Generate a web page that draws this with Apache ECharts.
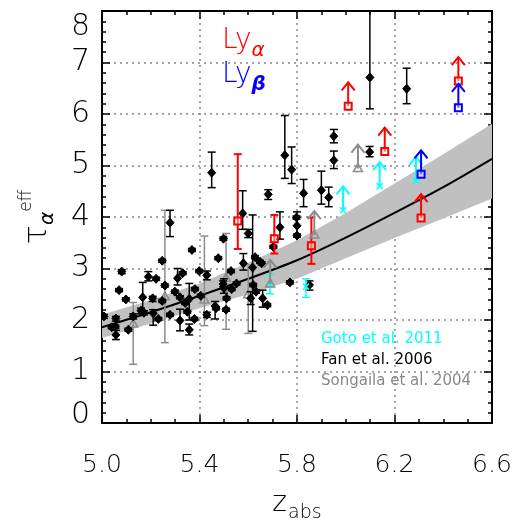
<!DOCTYPE html>
<html>
<head>
<meta charset="utf-8">
<script src="https://cdn.jsdelivr.net/npm/echarts@6/dist/echarts.min.js"></script>
<style>html,body{margin:0;padding:0;background:#fff}#c{width:522px;height:521px}</style>
</head>
<body>
<div id="c"></div>
<script>
// ---------- data ----------
const xTicks = [5.0, 5.4, 5.8, 6.2, 6.6];
const yTicks = [0, 1, 2, 3, 4, 5, 6, 7, 8];

// fit curve and its uncertainty band
const curveZ   = [5.0, 5.2, 5.4, 5.6, 5.8, 6.0, 6.2, 6.4, 6.6];
const curveTau = [1.86, 2.15, 2.47, 2.80, 3.16, 3.60, 4.08, 4.58, 5.13];
const bandHi   = [2.10, 2.39, 2.71, 3.11, 3.55, 4.08, 4.65, 5.22, 5.81];
const bandLo   = [1.65, 1.93, 2.23, 2.50, 2.80, 3.20, 3.59, 3.97, 4.36];

// Fan et al. 2006 (black)
const fanZ   = [5.008,5.040,5.057,5.055,5.057,5.070,5.081,5.098,5.108,5.128,5.160,5.167,5.172,5.190,5.208,5.210,5.222,5.231,5.247,5.247,5.258,5.279,5.279,5.299,5.310,5.320,5.331,5.320,5.341,5.358,5.350,5.358,5.369,5.381,5.379,5.399,5.405,5.430,5.430,5.450,5.464,5.468,5.477,5.498,5.500,5.511,5.509,5.529,5.552,5.532,5.577,5.580,5.600,5.618,5.620,5.610,5.628,5.648,5.655,5.659,5.632,5.678,5.682,5.703,5.730,5.750,5.771,5.778,5.800,5.798,5.800,5.827,5.851,5.900,5.930,5.951,5.951,6.098,6.099,6.250,5.497];
const fanTau = [2.07,1.86,2.03,1.87,1.71,2.58,2.94,2.40,1.81,2.07,2.18,2.44,2.14,2.84,2.42,2.13,2.80,2.02,3.15,2.37,2.67,3.89,2.10,2.55,2.81,2.44,2.91,1.99,2.33,2.41,2.16,1.81,3.36,2.60,2.02,2.95,2.47,2.87,2.10,4.86,2.27,2.23,3.20,3.58,2.62,2.42,2.20,2.95,2.71,2.60,4.07,3.10,3.68,3.02,2.68,2.42,3.22,3.13,3.10,2.42,2.55,2.29,4.44,3.42,3.80,5.20,2.73,4.92,3.83,3.99,3.64,4.46,2.68,4.52,4.38,5.57,5.10,5.26,6.71,6.49,2.70];
const fanLo  = [2.03,1.83,1.98,1.84,1.62,2.55,2.90,2.37,1.78,2.02,2.12,2.14,2.10,2.76,2.36,1.90,2.77,1.99,3.12,2.34,2.64,3.62,2.07,2.52,2.68,2.41,2.88,1.79,2.30,2.00,2.13,1.71,3.33,2.57,1.99,2.92,2.44,2.78,2.05,4.57,2.02,2.20,3.17,3.55,2.52,2.39,2.17,2.92,2.68,2.57,3.76,2.97,3.60,1.78,2.65,2.30,3.19,3.10,3.07,2.25,2.52,2.26,4.34,3.39,3.57,4.75,2.70,4.65,3.62,3.96,3.61,4.20,2.58,4.25,4.20,5.44,4.94,5.17,6.10,6.20,2.65];
const fanHi  = [2.11,1.89,2.07,1.90,1.80,2.61,2.98,2.43,1.84,2.12,2.23,2.73,2.18,2.94,2.46,2.20,2.83,2.05,3.18,2.40,2.70,4.13,2.13,2.58,3.00,2.47,2.94,2.21,2.36,2.71,2.19,1.92,3.39,2.63,2.05,2.98,2.50,2.95,2.15,5.26,2.36,2.26,3.23,3.61,2.80,2.45,2.23,2.98,2.74,2.63,4.51,3.29,3.76,4.04,2.71,2.55,3.25,3.16,3.13,2.58,2.58,2.32,4.53,3.45,4.10,5.97,2.76,5.36,4.10,4.02,3.67,4.73,2.76,4.89,4.58,5.70,5.28,5.37,8.00,6.89,2.76];

// Songaila et al. 2004 (gray)
const songZ   = [5.128, 5.258, 5.420, 5.509, 5.600];
const songTau = [1.92, 2.45, 2.39, 2.81, 2.49];
const songLo  = [1.14, 1.56, 1.89, 1.82, 1.74];
const songHi  = [2.34, 4.13, 3.63, 3.68, 3.07];
const songLimZ   = [5.690, 5.871, 6.050];
const songLimTau = [2.70, 3.65, 4.94];

// Goto et al. 2011 (cyan)
const gotoZ   = [5.689, 5.837];
const gotoTau = [2.68, 2.65];
const gotoLo  = [2.51, 2.44];
const gotoHi  = [2.89, 2.80];
const gotoLimZ   = [5.989, 6.139, 6.288];
const gotoLimTau = [4.13, 4.60, 4.70];

// Ly alpha (red) and Ly beta (blue)
const lyaZ   = [5.557, 5.707, 5.859];
const lyaTau = [3.92, 3.58, 3.44];
const lyaLo  = [3.38, 3.29, 3.09];
const lyaHi  = [5.22, 4.04, 3.99];
const lyaLimZ   = [6.010, 6.160, 6.309, 6.462];
const lyaLimTau = [6.15, 5.27, 3.98, 6.64];
const lybLimZ   = [6.309, 6.462];
const lybLimTau = [4.83, 6.12];

// ---------- helpers ----------
const FONT = 'DejaVu Sans';
const zip4 = (a, b, c, d) => a.map((v, i) => [v, b[i], c[i], d[i]]);
const zip2 = (a, b) => a.map((v, i) => [v, b[i]]);

function marker(kind, x, y, color) {
  const r = 4;
  if (kind === 'diamond') return {type:'polygon', shape:{points:[[x,y-r-0.5],[x+r,y],[x,y+r+0.5],[x-r,y]]}, style:{fill:color, stroke:color, lineWidth:1}};
  if (kind === 'square') return {type:'rect', shape:{x:x-3.5,y:y-3.5,width:7,height:7}, style:{fill:'rgba(255,255,255,0.4)', stroke:color, lineWidth:2}};
  if (kind === 'triangle') return {type:'polygon', shape:{points:[[x,y-5],[x+4.5,y+3],[x-4.5,y+3]]}, style:{fill:'none', stroke:color, lineWidth:1.5}};
  if (kind === 'x') return {type:'group', children:[
    {type:'line', shape:{x1:x-3,y1:y-3,x2:x+3,y2:y+3}, style:{stroke:color, lineWidth:1.5}},
    {type:'line', shape:{x1:x-3,y1:y+3,x2:x+3,y2:y-3}, style:{stroke:color, lineWidth:1.5}}]};
  return null;
}

function errSeries(data, color, kind, lw) {
  return {
    type: 'custom', data: data, encode: {x: 0, y: 1}, z: 5, clip: true,
    renderItem: function (params, api) {
      const p = api.coord([api.value(0), api.value(1)]);
      const pl = api.coord([api.value(0), api.value(2)]);
      const ph = api.coord([api.value(0), api.value(3)]);
      const ch = [];
      const cw = 4;
      ch.push({type:'line', shape:{x1:pl[0],y1:pl[1],x2:ph[0],y2:ph[1]}, style:{stroke:color, lineWidth:lw}});
      ch.push({type:'line', shape:{x1:pl[0]-cw,y1:pl[1],x2:pl[0]+cw,y2:pl[1]}, style:{stroke:color, lineWidth:lw}});
      ch.push({type:'line', shape:{x1:ph[0]-cw,y1:ph[1],x2:ph[0]+cw,y2:ph[1]}, style:{stroke:color, lineWidth:lw}});
      ch.push(marker(kind, p[0], p[1], color));
      return {type:'group', children: ch};
    }
  };
}

function limSeries(data, color, kind) {
  return {
    type: 'custom', data: data, encode: {x: 0, y: 1}, z: 6,
    renderItem: function (params, api) {
      const p = api.coord([api.value(0), api.value(1)]);
      const L = 24, hw = 6.5, hh = 8;
      const top = p[1] - L;
      return {type:'group', children:[
        {type:'line', shape:{x1:p[0],y1:p[1],x2:p[0],y2:top}, style:{stroke:color, lineWidth:2}},
        {type:'polyline', shape:{points:[[p[0]-hw, top+hh],[p[0], top],[p[0]+hw, top+hh]]}, style:{stroke:color, lineWidth:2, fill:'none'}},
        marker(kind, p[0], p[1], color)
      ]};
    }
  };
}

const bandSeries = {
  type: 'custom', data: curveZ.map((z, i) => [z, bandLo[i], bandHi[i]]), encode: {x: 0, y: [1, 2]}, z: 1,
  renderItem: function (params, api) {
    if (params.dataIndex !== 0) return null;
    const up = curveZ.map((z, i) => api.coord([z, bandHi[i]]));
    const dn = curveZ.map((z, i) => api.coord([z, bandLo[i]])).reverse();
    return {type:'polygon', shape:{points: up.concat(dn)}, style:{fill:'#c0c0c0'}};
  }
};

const axisCommonX = {
  type: 'value', min: 5.0, max: 6.6, interval: 0.4,
  axisLine: {show: true, onZero: false, lineStyle: {color: '#000', width: 2}},
  axisTick: {show: true, inside: true, length: 8, lineStyle: {color: '#000', width: 1.5}},
  minorTick: {show: true, splitNumber: 4, length: 4, lineStyle: {color: '#000', width: 1.5}},
};
const axisCommonY = {
  type: 'value', min: 0, max: 8, interval: 1,
  axisLine: {show: true, onZero: false, lineStyle: {color: '#000', width: 2}},
  axisTick: {show: true, inside: true, length: 8, lineStyle: {color: '#000', width: 1.5}},
  minorTick: {show: true, splitNumber: 5, length: 4, lineStyle: {color: '#000', width: 1.5}},
};

const chart = echarts.init(document.getElementById('c'), null, {renderer: 'canvas'});
chart.setOption({
  backgroundColor: '#fff',
  animation: false,
  grid: {left: 102, right: 30, top: 11, bottom: 98, containLabel: false, outerBoundsMode: 'none'},
  xAxis: [
    Object.assign({}, axisCommonX, {
      position: 'bottom',
      splitLine: {show: true, lineStyle: {color: '#888', width: 1.5, type: [2, 4]}},
      axisLabel: {show: true, margin: 30, fontFamily: FONT, fontWeight: 200, fontSize: 25, color: '#000',
        formatter: v => { const t = xTicks.find(k => Math.abs(k - v) < 1e-6); return t === undefined ? '' : t.toFixed(1); }},
      name: '{z|z}{s|abs}', nameLocation: 'middle', nameGap: 67,
      nameTextStyle: {rich: {
        z: {fontFamily: FONT, fontWeight: 200, fontSize: 28, color: '#000', verticalAlign: 'top', padding: [0, 1, 5, 0]},
        s: {fontFamily: FONT, fontWeight: 200, fontSize: 19, color: '#000', verticalAlign: 'bottom'}
      }}
    }),
    Object.assign({}, axisCommonX, {position: 'top', axisLabel: {show: false}, splitLine: {show: false}})
  ],
  yAxis: [
    Object.assign({}, axisCommonY, {
      position: 'left',
      splitLine: {show: true, lineStyle: {color: '#888', width: 1.5, type: [2, 4]}},
      axisLabel: {show: true, margin: 12, fontFamily: FONT, fontWeight: 200, fontSize: 30, color: '#000',
        hideOverlap: false,
        verticalAlignMaxLabel: 'top', verticalAlignMinLabel: 'bottom',
        rich: {
          lo: {fontFamily: FONT, fontWeight: 200, fontSize: 30, color: '#000', lineHeight: 16},
          hi: {fontFamily: FONT, fontWeight: 200, fontSize: 30, color: '#000', lineHeight: 32}
        },
        formatter: v => {
          const t = yTicks.find(k => Math.abs(k - v) < 1e-6);
          if (t === undefined) return '';
          if (t === yTicks[0]) return '{lo|' + t + '}';
          if (t === yTicks[yTicks.length - 1]) return '{hi|' + t + '}';
          return String(t);
        }},
      name: '{t|τ}{a|α}{e|eff}', nameLocation: 'middle', nameGap: 44, nameRotate: 90,
      nameTextStyle: {rich: {
        t: {fontFamily: FONT, fontWeight: 200, fontSize: 32, color: '#000', verticalAlign: 'middle', lineHeight: 40},
        a: {fontFamily: FONT, fontWeight: 200, fontSize: 20, color: '#000', verticalAlign: 'bottom', fontStyle: 'italic'},
        e: {fontFamily: FONT, fontWeight: 200, fontSize: 17, color: '#000', verticalAlign: 'top'}
      }}
    }),
    Object.assign({}, axisCommonY, {position: 'right', axisLabel: {show: false}, splitLine: {show: false}})
  ],
  series: [
    bandSeries,
    {type: 'line', data: zip2(curveZ, curveTau), smooth: 0.3, symbol: 'none', z: 2,
      lineStyle: {color: '#000', width: 2}},
    errSeries(zip4(songZ, songTau, songLo, songHi), '#8c8c8c', 'triangle', 1.5),
    errSeries(zip4(fanZ, fanTau, fanLo, fanHi), '#000', 'diamond', 1.5),
    errSeries(zip4(gotoZ, gotoTau, gotoLo, gotoHi), '#00ffff', 'x', 1.5),
    errSeries(zip4(lyaZ, lyaTau, lyaLo, lyaHi), '#ff0000', 'square', 2),
    limSeries(zip2(songLimZ, songLimTau), '#8c8c8c', 'triangle'),
    limSeries(zip2(gotoLimZ, gotoLimTau), '#00ffff', 'x'),
    limSeries(zip2(lyaLimZ, lyaLimTau), '#ff0000', 'square'),
    limSeries(zip2(lybLimZ, lybLimTau), '#0000ff', 'square')
  ],
  graphic: [
    {type: 'text', left: 222, top: 27, z: 10, style: {
      text: '{L|Ly}{s|α}', rich: {
        L: {fontFamily: FONT, fontWeight: 200, fontSize: 28, fill: '#ff0000', verticalAlign: 'top', padding: [0, 0, 6, 0]},
        s: {fontFamily: FONT, fontSize: 20, fontStyle: 'italic', fill: '#ff0000', verticalAlign: 'bottom'}}}},
    {type: 'text', left: 222, top: 61, z: 10, style: {
      text: '{L|Ly}{s|β}', rich: {
        L: {fontFamily: FONT, fontWeight: 200, fontSize: 28, fill: '#0000ff', verticalAlign: 'top', padding: [0, 0, 6, 0]},
        s: {fontFamily: FONT, fontSize: 20, fontStyle: 'italic', fontWeight: 'bold', fill: '#0000ff', verticalAlign: 'bottom'}}}},
    {type: 'text', left: 321, top: 332, z: 10, style: {text: 'Goto et al. 2011', fontFamily: FONT, fontSize: 15, fill: '#00ffff'}},
    {type: 'text', left: 321, top: 353, z: 10, style: {text: 'Fan et al. 2006', fontFamily: FONT, fontSize: 15, fill: '#000'}},
    {type: 'text', left: 321, top: 374, z: 10, style: {text: 'Songaila et al. 2004', fontFamily: FONT, fontSize: 15, fill: '#888'}}
  ]
});
</script>
</body>
</html>
